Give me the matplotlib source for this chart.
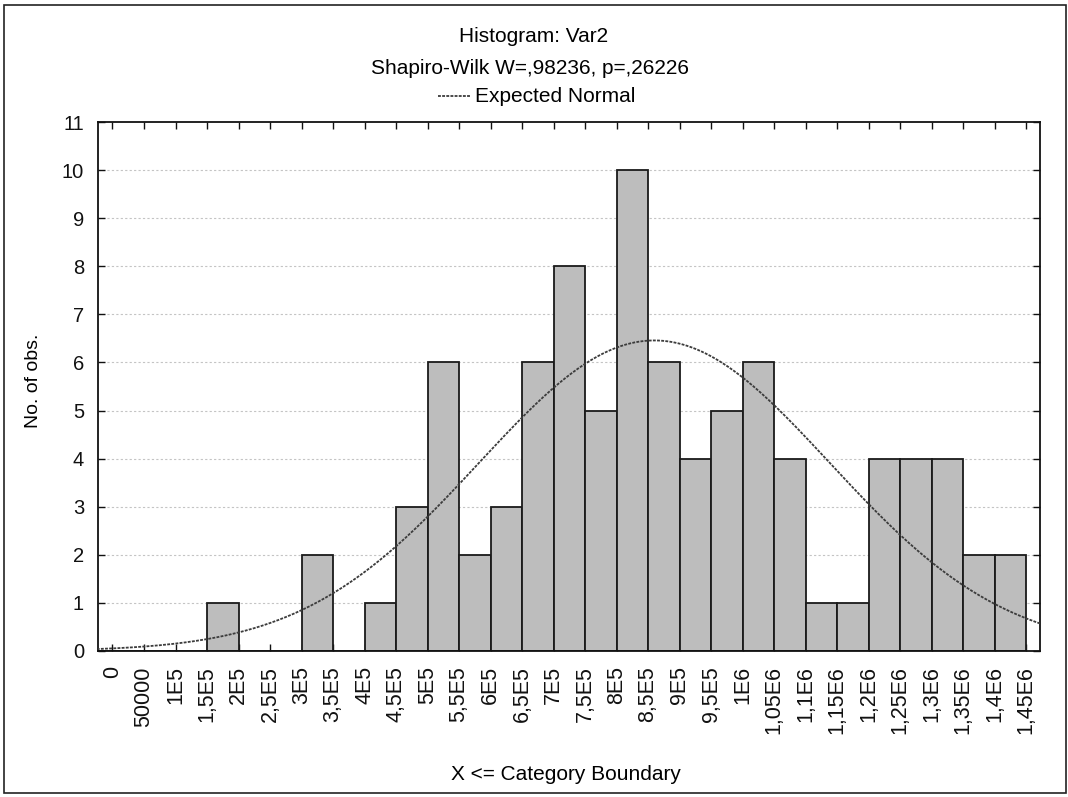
import numpy as np
import matplotlib
matplotlib.use("Agg")
import matplotlib.pyplot as plt
from matplotlib.patches import Rectangle

plt.rcParams['font.family'] = ['Liberation Sans', 'DejaVu Sans']

# Category boundaries (X <= boundary) and counts per category
boundaries = [0, 50000, 100000, 150000, 200000, 250000, 300000, 350000, 400000,
              450000, 500000, 550000, 600000, 650000, 700000, 750000, 800000,
              850000, 900000, 950000, 1000000, 1050000, 1100000, 1150000,
              1200000, 1250000, 1300000, 1350000, 1400000, 1450000]
boundary_labels = ["0", "50000", "1E5", "1,5E5", "2E5", "2,5E5", "3E5", "3,5E5",
                   "4E5", "4,5E5", "5E5", "5,5E5", "6E5", "6,5E5", "7E5", "7,5E5",
                   "8E5", "8,5E5", "9E5", "9,5E5", "1E6", "1,05E6", "1,1E6",
                   "1,15E6", "1,2E6", "1,25E6", "1,3E6", "1,35E6", "1,4E6", "1,45E6"]
counts = [0, 0, 0, 0, 1, 0, 0, 2, 0, 1, 3, 6, 2, 3, 6, 8, 5, 10, 6, 4, 5, 6,
          4, 1, 1, 4, 4, 4, 2, 2]

# Expected normal parameters
normal_mean = 860000
normal_sd = 278000

bin_width = 50000
n_obs = sum(counts)

W, H = 1068, 797
fig = plt.figure(figsize=(W / 100, H / 100), dpi=100)
ax = fig.add_axes([98 / W, 1 - 651 / H, (1040 - 98) / W, (651 - 122) / H])

curve_style = dict(color='#3c3c3c', lw=1.3, ls=(0, (1.6, 0.7)))

# light dotted horizontal grid
for yv in range(1, 11):
    ax.axhline(yv, color='#c4c4c4', lw=0.8, ls=(0, (2, 2)), zorder=0)

# bars: each count belongs to the interval (boundary - width, boundary]
lefts = [b - bin_width for b in boundaries]
ax.bar(lefts, counts, width=bin_width, align='edge', color='#bdbdbd',
       edgecolor='#1a1a1a', linewidth=1.3, zorder=2)

# expected normal curve scaled to counts
xs = np.linspace(-25000, 1475000, 600)
ys = n_obs * bin_width / (normal_sd * np.sqrt(2 * np.pi)) * \
    np.exp(-0.5 * ((xs - normal_mean) / normal_sd) ** 2)
ax.plot(xs, ys, zorder=3, **curve_style)

ax.set_xlim(-23000, 1472000)
ax.set_ylim(0, 11)
ax.set_yticks(range(0, 12))
ax.set_xticks(boundaries)
ax.set_xticklabels(boundary_labels, rotation=90, ha='center', va='top',
                   fontsize=15.5)
ax.tick_params(axis='both', direction='in', length=5, width=1,
               top=True, right=True, colors='#111111')
ax.tick_params(axis='y', labelsize=14.5, pad=10)
ax.tick_params(axis='x', pad=11)
for s in ax.spines.values():
    s.set_linewidth(1.3)
    s.set_color('#111111')

# axis titles
fig.text(566 / W, 1 - 775 / H, "X <= Category Boundary", ha='center',
         va='center', fontsize=15)
fig.text(33 / W, 1 - 381 / H, "No. of obs.", ha='center', va='center',
         rotation=90, fontsize=14)

# titles and legend line
fig.text(534 / W, 1 - 37 / H, "Histogram: Var2", ha='center', va='center',
         fontsize=15)
fig.text(530 / W, 1 - 68 / H, "Shapiro-Wilk W=,98236, p=,26226", ha='center',
         va='center', fontsize=15)
fig.text(475 / W, 1 - 97 / H, "Expected Normal", ha='left', va='center',
         fontsize=15)
fig.add_artist(plt.Line2D([438 / W, 470 / W], [1 - 96 / H, 1 - 96 / H],
                          **curve_style))

# outer frame
fig.add_artist(Rectangle((4 / W, 4 / H), 1062 / W, 788 / H,
                         fill=False, edgecolor='#222222', lw=1.2,
                         transform=fig.transFigure))

fig.savefig("out.png", dpi=100)
